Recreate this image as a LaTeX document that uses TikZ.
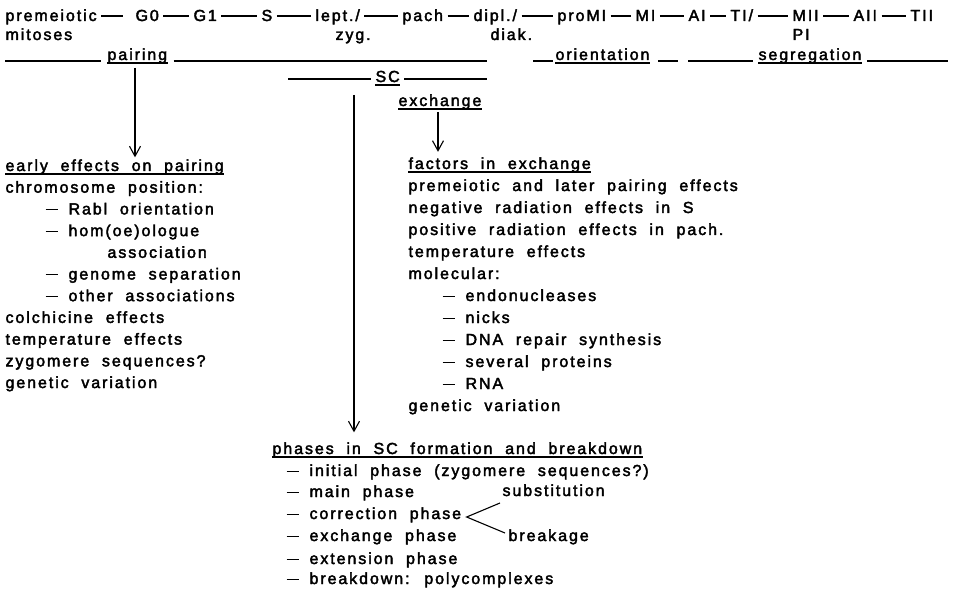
\documentclass[tikz,border=0pt]{standalone}
\usepackage{fontspec}
\setmainfont{Liberation Sans}[LetterSpace=12, WordSpace=2.0, FakeBold=2.5]
\usetikzlibrary{arrows.meta}
\newcommand\itemdash{\rule[4pt]{12pt}{1.2pt}\hspace{11pt}}
\begin{document}
\begin{tikzpicture}[x=1pt,y=-1pt,line width=1.1pt,
  t/.style={inner sep=0pt,anchor=base west,font=\fontsize{16}{18}\selectfont},
  conn/.style={shorten <=4pt,shorten >=4pt},
  arr/.style={-{Straight Barb[length=10pt,width=11pt,line width=1.1pt]}}]
\useasboundingbox (0,0) rectangle (962,591);
% row 1
\node[t] (pm) at (5,21) {premeiotic};
\node[t] (g0) at (135,21) {G0};
\node[t] (g1) at (193,21) {G1};
\node[t] (s) at (261,21) {S};
\node[t] (lz) at (315,21) {lept./};
\node[t] (pa) at (402,21) {pach};
\node[t] (dd) at (473,21) {dipl./};
\node[t] (pmi) at (557,21) {proMI};
\node[t] (m1) at (635,21) {MI};
\node[t] (a1) at (688,21) {AI};
\node[t] (t1) at (730,21) {TI/};
\node[t] (m2) at (792,21) {MII};
\node[t] (a2) at (853,21) {AII};
\node[t] (t2) at (910,21) {TII};
\draw[shorten <=4pt,shorten >=12pt] ([yshift=5pt]pm.base east) -- ([yshift=5pt]g0.base west);
\draw[conn] ([yshift=5pt]g0.base east) -- ([yshift=5pt]g1.base west);
\draw[conn] ([yshift=5pt]g1.base east) -- ([yshift=5pt]s.base west);
\draw[conn] ([yshift=5pt]s.base east) -- ([yshift=5pt]lz.base west);
\draw[conn] ([yshift=5pt]lz.base east) -- ([yshift=5pt]pa.base west);
\draw[conn] ([yshift=5pt]pa.base east) -- ([yshift=5pt]dd.base west);
\draw[conn] ([yshift=5pt]dd.base east) -- ([yshift=5pt]pmi.base west);
\draw[conn] ([yshift=5pt]pmi.base east) -- ([yshift=5pt]m1.base west);
\draw[conn] ([yshift=5pt]m1.base east) -- ([yshift=5pt]a1.base west);
\draw[conn] ([yshift=5pt]a1.base east) -- ([yshift=5pt]t1.base west);
\draw[conn] ([yshift=5pt]t1.base east) -- ([yshift=5pt]m2.base west);
\draw[conn] ([yshift=5pt]m2.base east) -- ([yshift=5pt]a2.base west);
\draw[conn] ([yshift=5pt]a2.base east) -- ([yshift=5pt]t2.base west);
% row 2
\node[t] (mit) at (5,40) {mitoses};
\node[t] (zyg) at (335,40) {zyg.};
\node[t] (diak) at (490,40) {diak.};
\node[t] (pI) at (792,40) {PI};
% row 3
\node[t] (pair) at (107,60) {pairing};
\node[t] (ori) at (555,60) {orientation};
\node[t] (seg) at (758,60) {segregation};
\coordinate (pl) at (5,61);
\coordinate (pr) at (487,61);
\coordinate (ol) at (533,61);
\coordinate (or) at (678,61);
\coordinate (sl) at (688,61);
\coordinate (sr) at (948,61);
\draw[shorten >=6pt] (pl) -- (pl -| pair.west);
\draw[shorten <=6pt] (pl -| pair.east) -- (pr);
\draw[shorten >=2pt] (ol) -- (ol -| ori.west);
\draw[shorten <=8pt] (or -| ori.east) -- (or);
\draw[shorten >=5pt] (sl) -- (sl -| seg.west);
\draw[shorten <=5pt] (sr -| seg.east) -- (sr);
% SC row
\node[t] (sc) at (375,82) {SC};
\coordinate (scl) at (288,79);
\coordinate (scr) at (487,79);
\draw[shorten >=4pt] (scl) -- (scl -| sc.west);
\draw[shorten <=4pt] (scr -| sc.east) -- (scr);
\node[t] (exch) at (398,106) {exchange};
% underlines
\foreach \n in {pair,ori,seg,sc,exch}
  \draw ([yshift=-3pt]\n.base west) -- ([yshift=-3pt]\n.base east);
% left block
\node[t] (e1) at (5,171) {early effects on pairing};
\node[t] (e2) at (5,192.7) {chromosome position:};
\node[t] (e3) at (45,214.4) {\itemdash Rabl orientation};
\node[t] (e4) at (45,236.1) {\itemdash hom(oe)ologue};
\node[t] (e5) at (107,257.8) {association};
\node[t] (e6) at (45,279.5) {\itemdash genome separation};
\node[t] (e7) at (45,301.2) {\itemdash other associations};
\node[t] (e8) at (5,322.9) {colchicine effects};
\node[t] (e9) at (5,344.6) {temperature effects};
\node[t] (e10) at (5,366.3) {zygomere sequences?};
\node[t] (e11) at (5,388) {genetic variation};
% right block
\node[t] (f1) at (408,169) {factors in exchange};
\node[t] (f2) at (408,191) {premeiotic and later pairing effects};
\node[t] (f3) at (408,213) {negative radiation effects in S};
\node[t] (f4) at (408,235) {positive radiation effects in pach.};
\node[t] (f5) at (408,257) {temperature effects};
\node[t] (f6) at (408,279) {molecular:};
\node[t] (f7) at (442,301) {\itemdash endonucleases};
\node[t] (f8) at (442,323) {\itemdash nicks};
\node[t] (f9) at (442,345) {\itemdash DNA repair synthesis};
\node[t] (f10) at (442,367) {\itemdash several proteins};
\node[t] (f11) at (442,389) {\itemdash RNA};
\node[t] (f12) at (408,411) {genetic variation};
% bottom block
\node[t] (p1) at (272,454) {phases in SC formation and breakdown};
\node[t] (p2) at (286,476) {\itemdash initial phase (zygomere sequences?)};
\node[t] (p3) at (286,497) {\itemdash main phase};
\node[t] (p4) at (286,519) {\itemdash correction phase};
\node[t] (p5) at (286,541) {\itemdash exchange phase};
\node[t] (p6) at (286,564) {\itemdash extension phase};
\node[t] (p7) at (286,584) {\itemdash breakdown: polycomplexes};
\node[t] (sub) at (502,496) {substitution};
\node[t] (brk) at (508,541) {breakage};
\foreach \n in {e1,f1,p1}
  \draw ([yshift=-3pt]\n.base west) -- ([yshift=-3pt]\n.base east);
% fork
\draw ([xshift=-2pt,yshift=-7pt]sub.base west) -- ([xshift=5pt,yshift=2pt]p4.base east) -- ([xshift=-3pt,yshift=8pt]brk.base west);
% arrows
\coordinate (pv) at (135,68);
\draw[arr] (pv) -- ([yshift=1.5pt]pv |- e1.north);
\coordinate (scv) at (354,95);
\draw[arr] (scv) -- ([yshift=9.5pt]scv |- p1.north);
\coordinate (ev) at (438,112);
\draw[arr] (ev) -- ([yshift=5pt]ev |- f1.north);
\end{tikzpicture}
\end{document}
